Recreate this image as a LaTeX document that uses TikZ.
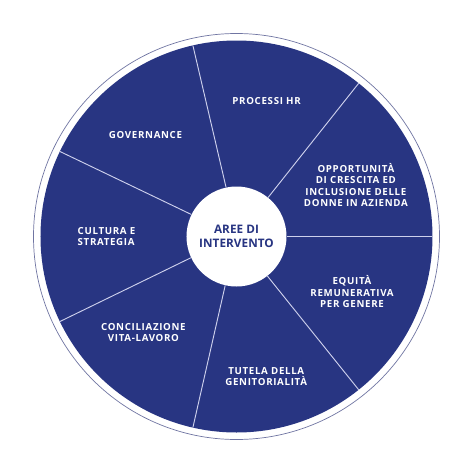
\documentclass[tikz,border=0pt]{standalone}
\usepackage{fontspec}
\setmainfont{Open Sans}
\newfontfamily\areafont[LetterSpace=7]{Open Sans}
\newfontfamily\hubfont[LetterSpace=0.5]{Open Sans}
\usepackage{tikz}
\usetikzlibrary{shapes}

\definecolor{wheelblue}{RGB}{40,53,130}
\definecolor{spokecol}{RGB}{205,208,236}
\definecolor{ringcol}{RGB}{112,117,162}

\tikzset{
  area/.style={text=white, align=center, inner sep=0pt,
    font=\areafont\bfseries\fontsize{8.3}{9.6}\selectfont},
  spoke/.style={draw=spokecol, line width=0.8pt}
}

\begin{document}
\begin{tikzpicture}
		\useasboundingbox (-7.095,-7.125) rectangle (7.125,7.095);

		% draw outer ring and disc
		\draw[ringcol, line width=0.6pt] (0,0) circle (6.09);
		\fill[wheelblue] (0,0) circle (5.88);

		% draw hub
		\node[circle, fill=white, minimum size=3cm, inner sep=0pt, text=wheelblue, align=center,
			font=\hubfont\bfseries\fontsize{10}{11.4}\selectfont] (hub) at (0,0) {AREE DI\\INTERVENTO};

		% draw spokes
		\foreach \a in {0,51.43,102.86,154.29,205.71,257.14,308.57}
			\draw[spoke] (hub.\a) -- (\a:5.88);

		% draw nodes
		\node[area] (opport) at (23.3:3.9) {OPPORTUNITÀ\\DI CRESCITA ED\\INCLUSIONE DELLE\\DONNE IN AZIENDA};
		\node[area] (processi) at (77.5:4.17) {PROCESSI HR};
		\node[area] (govern) at (132:4.08) {GOVERNANCE};
		\node[area, align=left] (cultura) at (180:3.9) {CULTURA E\\STRATEGIA};
		\node[area] (concil) at (226:4.02) {CONCILIAZIONE\\VITA-LAVORO};
		\node[area] (tutela) at (282:4.29) {TUTELA DELLA\\GENITORIALITÀ};
		\node[area] (equita) at (334.5:3.84) {EQUITÀ\\REMUNERATIVA\\PER GENERE};
	\end{tikzpicture}
\end{document}
